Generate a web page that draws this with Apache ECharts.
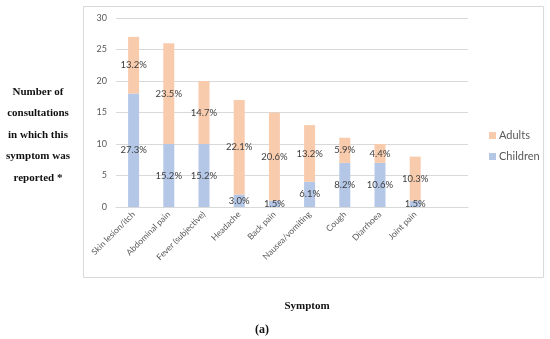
<!DOCTYPE html>
<html>
<head>
<meta charset="utf-8">
<script src="https://cdn.jsdelivr.net/npm/echarts@6/dist/echarts.min.js"></script>
<style>html,body{margin:0;padding:0;background:#fff}#c{width:550px;height:339px}</style>
</head>
<body>
<div id="c"></div>
<script>
const categories = ["Skin lesion/itch","Abdominal pain","Fever (subjective)","Headache","Back pain","Nausea/vomiting","Cough","Diarrhoea","Joint pain",""];
const children = [18,10,10,2,1,4,7,7,1,null];
const adults = [9,16,10,15,14,9,4,3,7,null];
const childrenPct = ["27.3%","15.2%","15.2%","3.0%","1.5%","6.1%","8.2%","10.6%","1.5%",""];
const adultsPct = ["13.2%","23.5%","14.7%","22.1%","20.6%","13.2%","5.9%","4.4%","10.3%",""];
const yTicks = [0,5,10,15,20,25,30];

const chart = echarts.init(document.getElementById('c'), null, {renderer:'canvas'});
const lblFont = 'Lato, "Open Sans", sans-serif';
chart.setOption({
  animation:false,
  grid:{left:116,right:82,top:18,bottom:132},
  legend:{
    orient:'vertical', left:484, top:125, itemWidth:7, itemHeight:7, itemGap:10,
    icon:'rect',
    data:['Adults','Children'],
    textStyle:{color:'#595959',fontSize:11,fontFamily:lblFont,padding:[0,0,0,-2]}
  },
  xAxis:{
    type:'category', data:categories,
    axisLine:{lineStyle:{color:'#d9d9d9'}},
    axisTick:{show:false},
    axisLabel:{rotate:45,color:'#595959',fontSize:8.5,fontFamily:lblFont,interval:0,margin:6}
  },
  yAxis:{
    type:'value', min:yTicks[0], max:yTicks[yTicks.length-1], interval:5,
    axisLine:{show:false}, axisTick:{show:false},
    splitLine:{lineStyle:{color:'#d9d9d9'}},
    axisLabel:{color:'#595959',fontSize:9,fontFamily:lblFont,margin:9}
  },
  series:[
    {name:'Children',type:'bar',stack:'s',data:children,barWidth:11,
     itemStyle:{color:'#b4c7e7'},
     label:{show:true,position:'inside',color:'#404040',fontSize:9.5,fontFamily:lblFont,
       formatter:p=>childrenPct[p.dataIndex]}},
    {name:'Adults',type:'bar',stack:'s',data:adults,barWidth:11,
     itemStyle:{color:'#f8cbad'},
     label:{show:true,position:'inside',color:'#404040',fontSize:9.5,fontFamily:lblFont,
       formatter:p=>adultsPct[p.dataIndex]}}
  ],
  graphic:[
    {type:'rect',shape:{x:83.5,y:6.5,width:460,height:271},style:{fill:'none',stroke:'#d9d9d9',lineWidth:1},z:-1},
    {type:'text',style:{x:38,y:135,text:'Number of\nconsultations\nin which this\nsymptom was\nreported *',
      fill:'#111',font:'bold 11px "Liberation Serif", serif',textAlign:'center',textVerticalAlign:'middle',lineHeight:21.6}},
    {type:'text',style:{x:307,y:306,text:'Symptom',fill:'#111',font:'bold 11px "Liberation Serif", serif',textAlign:'center',textVerticalAlign:'middle'}},
    {type:'text',style:{x:262,y:330,text:'(a)',fill:'#111',font:'bold 12px "Liberation Serif", serif',textAlign:'center',textVerticalAlign:'middle'}}
  ]
});
</script>
</body>
</html>
